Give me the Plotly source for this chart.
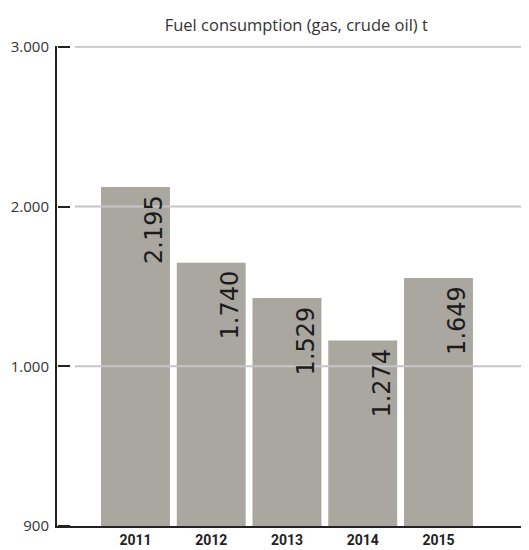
import plotly.graph_objects as go

years = ["2011", "2012", "2013", "2014", "2015"]
consumption = [2195, 1740, 1529, 1274, 1649]
y_tick_labels = ["900", "1.000", "2.000", "3.000"]
y_tick_pos = [0, 1, 2, 3]
grid_at = [1, 2, 3]  # gridlines at the 1.000 / 2.000 / 3.000 labels
title_text = "Fuel consumption (gas, crude oil) t"

BAR = "#aaa6a0"
DARK = "#222222"
GRID = "#c6c6ca"
TOP = 3.005  # tiny headroom so the top gridline is not clipped


def fmt(v):
    return f"{v:,}".replace(",", ".")


fig = go.Figure()
fig.add_trace(go.Bar(
    x=years, y=consumption, xaxis="x", yaxis="y",
    marker=dict(color=BAR, line=dict(width=0)),
    hoverinfo="skip", showlegend=False,
))
# tick-label axis and tick-mark axis
fig.add_trace(go.Scatter(x=[None], y=[None], xaxis="x", yaxis="y2",
                         showlegend=False, hoverinfo="skip"))
fig.add_trace(go.Scatter(x=[None], y=[None], xaxis="x", yaxis="y3",
                         showlegend=False, hoverinfo="skip"))

for i, v in enumerate(consumption):
    fig.add_annotation(
        x=i, y=v, xref="x", yref="y", text=fmt(v), textangle=-90,
        showarrow=False, xanchor="center", yanchor="top",
        xshift=19, yshift=-6,
        font=dict(family="DejaVu Sans", size=24, color="#1c1c1c"),
    )

for g in grid_at:
    fig.add_shape(
        type="line", xref="paper", x0=0.038, x1=1, yref="y2", y0=g, y1=g,
        line=dict(color=GRID, width=2), layer="above",
    )

fig.update_layout(
    width=529, height=550,
    margin=dict(l=49, r=8, t=38, b=32, autoexpand=False),
    paper_bgcolor="white", plot_bgcolor="rgba(0,0,0,0)",
    bargap=0.09,
    title=dict(text=title_text, x=0.545, xanchor="center", y=0.969, yanchor="middle",
               font=dict(family="Open Sans", size=16.5, color="#333333")),
    xaxis=dict(
        type="category", range=[-1.036, 5.195], showgrid=False, zeroline=False,
        showline=True, linecolor=DARK, linewidth=2, ticks="",
        tickfont=dict(family="Roboto", size=14, color=DARK, weight="bold"),
    ),
    yaxis=dict(
        range=[160, 160 + (3036 - 160) * TOP / 3], showgrid=False, zeroline=False,
        showticklabels=False, showline=True, linecolor=DARK, linewidth=2, ticks="",
    ),
    yaxis2=dict(
        overlaying="y", anchor="free", position=0, side="left", range=[0, TOP],
        tickmode="array", tickvals=y_tick_pos, ticktext=y_tick_labels,
        ticks="", ticklabelstandoff=8,
        showgrid=False, zeroline=False, showline=False,
        tickfont=dict(family="Open Sans", size=15, color="#333333"),
    ),
    yaxis3=dict(
        overlaying="y", anchor="free", position=0, side="right", range=[0, TOP],
        tickmode="array", tickvals=y_tick_pos, showticklabels=False,
        ticks="outside", ticklen=12, tickwidth=2, tickcolor=DARK,
        showgrid=False, zeroline=False, showline=False,
    ),
)

fig.write_html("out.html")
